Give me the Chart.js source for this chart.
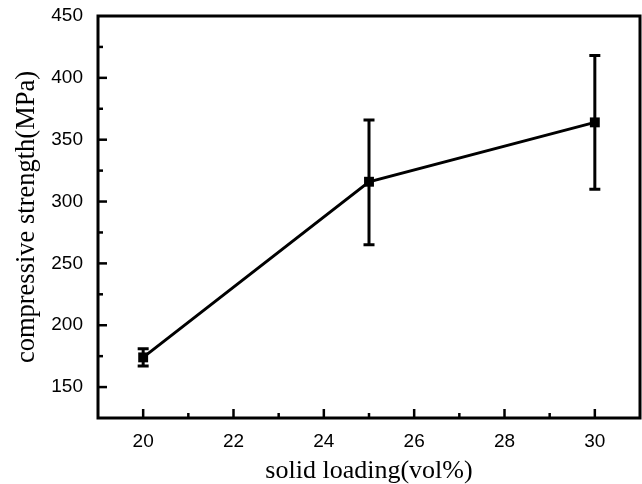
<!DOCTYPE html>
<html>
<head>
<meta charset="utf-8">
<script src="https://cdn.jsdelivr.net/npm/chart.js@4.4.1/dist/chart.umd.min.js"></script>
<style>
  html, body { margin: 0; padding: 0; background: #fff; }
  #wrap { width: 642px; height: 484px; }
</style>
</head>
<body>
<div id="wrap"><canvas id="c" width="642" height="484"></canvas></div>
<script>
// ---- data ----
const solidLoading = [20, 25, 30];            // vol%
const strength = [174, 316, 364];             // MPa
const errUpper = [7, 50, 54];                 // + error
const errLower = [7, 51, 54];                 // - error
const xMajorTicks = [20, 22, 24, 26, 28, 30];
const yMajorTicks = [150, 200, 250, 300, 350, 400, 450];

const points = solidLoading.map((x, i) => ({ x: x, y: strength[i] }));

const framePlugin = {
  id: 'frameTicksErr',
  afterDatasetsDraw(chart) {
    const ctx = chart.ctx;
    const a = chart.chartArea;
    const xs = chart.scales.x, ys = chart.scales.y;
    ctx.save();
    ctx.strokeStyle = '#000';
    ctx.lineCap = 'butt';
    // error bars
    ctx.lineWidth = 3;
    solidLoading.forEach((x, i) => {
      const px = xs.getPixelForValue(x);
      const top = ys.getPixelForValue(strength[i] + errUpper[i]);
      const bot = ys.getPixelForValue(strength[i] - errLower[i]);
      ctx.beginPath();
      ctx.moveTo(px, top); ctx.lineTo(px, bot);
      ctx.moveTo(px - 5.5, top); ctx.lineTo(px + 5.5, top);
      ctx.moveTo(px - 5.5, bot); ctx.lineTo(px + 5.5, bot);
      ctx.stroke();
    });
    // inward ticks
    ctx.lineWidth = 2.5;
    xs.ticks.forEach(t => {
      if (t.value <= xs.min || t.value >= xs.max) return;
      const px = xs.getPixelForValue(t.value);
      const len = xMajorTicks.includes(t.value) ? 9 : 5;
      ctx.beginPath();
      ctx.moveTo(px, a.bottom); ctx.lineTo(px, a.bottom - len);
      ctx.stroke();
    });
    ys.ticks.forEach(t => {
      if (t.value <= ys.min || t.value >= ys.max) return;
      const py = ys.getPixelForValue(t.value);
      const len = yMajorTicks.includes(t.value) ? 9 : 5;
      ctx.beginPath();
      ctx.moveTo(a.left, py); ctx.lineTo(a.left + len, py);
      ctx.stroke();
    });
    // frame
    ctx.lineWidth = 3;
    ctx.strokeRect(a.left, a.top, a.right - a.left, a.bottom - a.top);
    ctx.restore();
  }
};

new Chart(document.getElementById('c'), {
  type: 'scatter',
  data: {
    datasets: [{
      data: points,
      showLine: true,
      borderColor: '#000',
      backgroundColor: '#000',
      borderWidth: 3,
      pointStyle: 'rect',
      pointRadius: 7,
      pointHoverRadius: 7,
      pointBorderWidth: 0,
      clip: false
    }]
  },
  options: {
    responsive: false,
    animation: false,
    events: [],
    layout: { autoPadding: false, padding: { top: 16, right: 2, left: 0, bottom: 0 } },
    plugins: { legend: { display: false }, tooltip: { enabled: false } },
    scales: {
      x: {
        type: 'linear',
        min: 19, max: 31,
        afterFit(s) { s.height = 66; s.paddingLeft = 0; s.paddingRight = 0; },
        grid: { display: false, drawTicks: false },
        border: { display: false },
        ticks: {
          stepSize: 1,
          autoSkip: false,
          maxRotation: 0,
          padding: 12,
          color: '#000',
          font: { family: 'Liberation Sans', size: 19 },
          callback: v => xMajorTicks.includes(v) ? String(v) : ''
        },
        title: {
          display: true,
          text: 'solid loading(vol%)',
          color: '#000',
          font: { family: 'Liberation Serif', size: 26, lineHeight: 1 },
          padding: { top: 0, bottom: 0 }
        }
      },
      y: {
        type: 'linear',
        min: 125, max: 450,
        afterFit(s) { s.width = 98; s.paddingTop = 0; s.paddingBottom = 0; },
        grid: { display: false, drawTicks: false },
        border: { display: false },
        ticks: {
          stepSize: 25,
          autoSkip: false,
          padding: 15,
          color: '#000',
          font: { family: 'Liberation Sans', size: 19 },
          callback: v => yMajorTicks.includes(v) ? String(v) : ''
        },
        title: {
          display: true,
          text: 'compressive strength(MPa)',
          color: '#000',
          font: { family: 'Liberation Serif', size: 26.5, lineHeight: 1 },
          padding: { top: 14, bottom: 0 }
        }
      }
    }
  },
  plugins: [framePlugin]
});
</script>
</body>
</html>
